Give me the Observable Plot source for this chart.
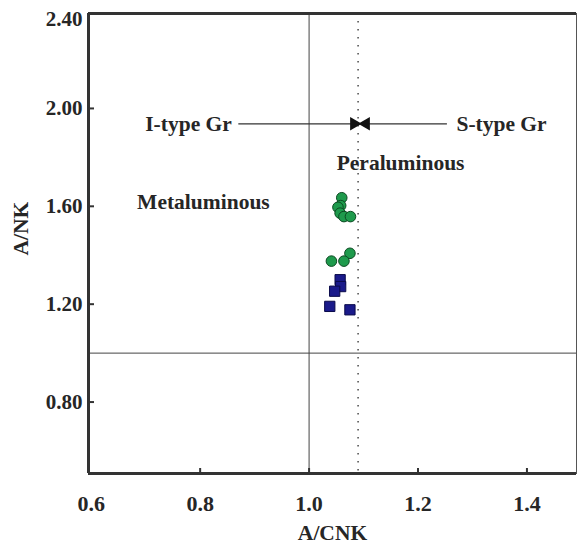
<!DOCTYPE html>
<html>
<head>
<meta charset="utf-8">
<script src="https://cdn.jsdelivr.net/npm/d3@7"></script>
<script src="https://cdn.jsdelivr.net/npm/@observablehq/plot@0.6"></script>
<style>
  html, body { margin: 0; padding: 0; background: #fff; }
</style>
</head>
<body>
<div id="chart"></div>
<script>
// ---- data ----
const xTicks = [0.6, 0.8, 1.0, 1.2, 1.4];
const yTicks = [0.8, 1.2, 1.6, 2.0, 2.4];
const xDomain = [0.595, 1.491];
const yDomain = [0.508, 2.388];

const circleX = [1.060, 1.058, 1.053, 1.057, 1.064, 1.076, 1.075, 1.064, 1.041];
const circleY = [1.635, 1.603, 1.596, 1.572, 1.558, 1.558, 1.408, 1.376, 1.376];

const squareX = [1.057, 1.058, 1.047, 1.038, 1.075];
const squareY = [1.300, 1.272, 1.253, 1.191, 1.177];

const refX = 1.0;          // A/CNK = 1 line
const refY = 1.0;          // A/NK = 1 line
const boundaryX = 1.09;    // I/S type boundary (dotted)

const arrowY = 1.937;
const iArrow = {from: 0.871, to: 1.083};
const sArrow = {from: 1.254, to: 1.103};
const headX = [1.0825, 1.1045];
const headRotate = [90, -90];

const regionLabels = ["Peraluminous", "Metaluminous"];
const regionX = [1.168, 0.806];
const regionY = [1.775, 1.616];

const circles = circleX.map((x, i) => ({x, y: circleY[i]}));
const squares = squareX.map((x, i) => ({x, y: squareY[i]}));
const regions = regionLabels.map((t, i) => ({t, x: regionX[i], y: regionY[i]}));
const heads = headX.map((x, i) => ({x, y: arrowY, r: headRotate[i]}));

const ink = "#262626";
const font = "'Liberation Serif', 'Times New Roman', serif";
const topTick = yTicks[yTicks.length - 1];

const chart = Plot.plot({
  width: 578,
  height: 546,
  marginLeft: 88,
  marginRight: 2,
  marginTop: 13,
  marginBottom: 73,
  x: {domain: xDomain},
  y: {domain: yDomain},
  style: {fontFamily: font, fontWeight: "bold", fontSize: "20px", color: ink, background: "#fff"},
  marks: [
    // thin outer frame (right side)
    Plot.frame({stroke: "#555", strokeWidth: 1}),
    // reference lines
    Plot.ruleX([refX], {stroke: "#444", strokeWidth: 1}),
    Plot.ruleY([refY], {stroke: "#444", strokeWidth: 1}),
    Plot.ruleX([boundaryX], {stroke: "#555", strokeWidth: 1.6, strokeDasharray: "1.6,6.4"}),
    // arrows
    Plot.ruleY([arrowY], {x1: iArrow.from, x2: iArrow.to, stroke: "#333", strokeWidth: 1.3}),
    Plot.ruleY([arrowY], {x1: sArrow.from, x2: sArrow.to, stroke: "#333", strokeWidth: 1.3}),
    Plot.dot(heads, {x: "x", y: "y", rotate: "r", symbol: "triangle", r: 5, fill: "#111", stroke: "none"}),
    Plot.text(["I-type Gr"], {x: iArrow.from, y: arrowY, text: d => d, textAnchor: "end", dx: -7, fontSize: 21.5, fill: ink}),
    Plot.text(["S-type Gr"], {x: sArrow.from, y: arrowY, text: d => d, textAnchor: "start", dx: 9, fontSize: 21.5, fill: ink}),
    Plot.text(regions, {x: "x", y: "y", text: "t", fontSize: 21.5, fill: ink}),
    // data
    Plot.dot(circles, {x: "x", y: "y", r: 5.3, fill: "#1e9a4c", stroke: "#0c4a22", strokeWidth: 1}),
    Plot.dot(squares, {x: "x", y: "y", symbol: "square", r: 5.8, fill: "#1a1a8a", stroke: "#0a0a4a", strokeWidth: 1}),
    // thick axis frame lines
    Plot.ruleX([xDomain[0]], {stroke: "#333", strokeWidth: 3}),
    Plot.ruleY([yDomain[0]], {stroke: "#333", strokeWidth: 3}),
    Plot.ruleY([yDomain[1]], {stroke: "#333", strokeWidth: 3}),
    // inward ticks
    Plot.axisY(yTicks.filter(v => v < topTick), {anchor: "left", tickSize: -6, text: null, label: null, stroke: "#333", strokeWidth: 2}),
    Plot.axisX(xTicks.filter(v => v > xTicks[0]), {anchor: "bottom", tickSize: -5, text: null, label: null, stroke: "#333", strokeWidth: 2}),
    // tick labels
    Plot.axisY(yTicks.filter(v => v < topTick), {anchor: "left", tickSize: 0, tickPadding: 6, tickFormat: d => d.toFixed(2), label: null, fontSize: 21, fill: ink}),
    Plot.axisY([topTick], {anchor: "left", tickSize: 0, tickPadding: 6, tickFormat: d => d.toFixed(2), label: null, fontSize: 21, fill: ink, dy: 9}),
    Plot.axisX(xTicks, {anchor: "bottom", tickSize: 0, tickPadding: 22, tickFormat: d => d.toFixed(1), label: null, fontSize: 22, fill: ink}),
    // axis titles
    Plot.text(["A/CNK"], {frameAnchor: "bottom", text: d => d, dy: 66, fontSize: 21.5, fill: ink}),
    Plot.text(["A/NK"], {frameAnchor: "left", text: d => d, rotate: -90, dx: -67, dy: 12, fontSize: 21.5, fill: ink})
  ]
});

document.getElementById("chart").appendChild(chart);
</script>
</body>
</html>
